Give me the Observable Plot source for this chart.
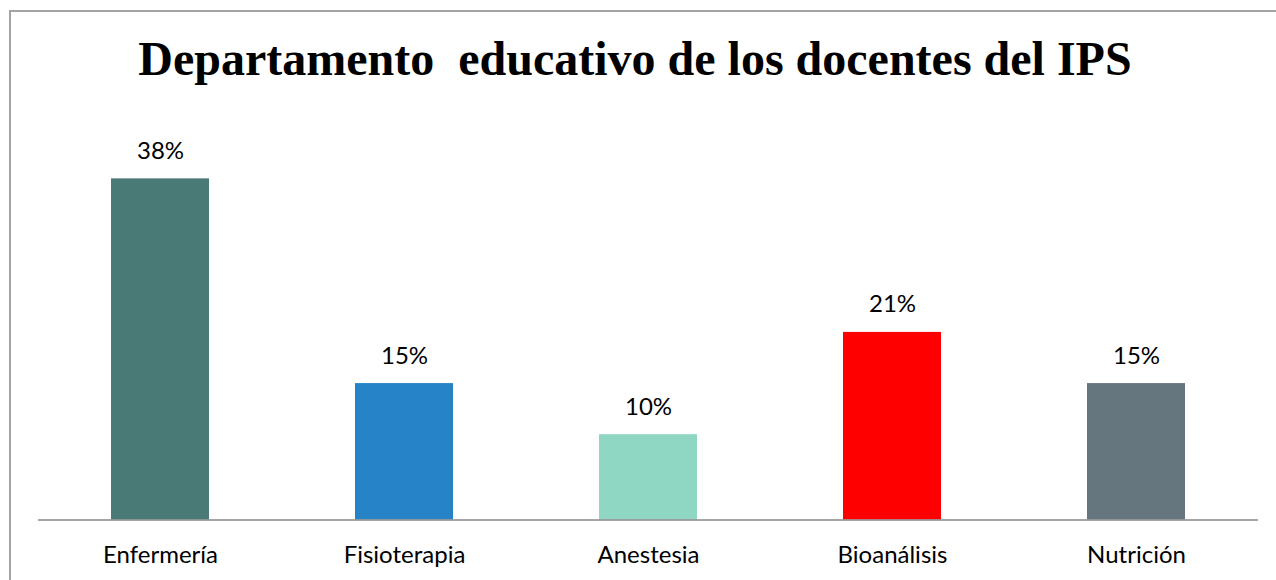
<!DOCTYPE html>
<html>
<head>
<meta charset="utf-8">
<script src="https://cdn.jsdelivr.net/npm/d3@7"></script>
<script src="https://cdn.jsdelivr.net/npm/@observablehq/plot@0.6"></script>
<style>
  html, body { margin: 0; padding: 0; background: #fff; overflow: hidden; width: 1276px; height: 580px; }
  #frame { position: absolute; left: 9px; top: 10px; width: 1400px; height: 700px; border: 2px solid #a3a3a3; box-sizing: border-box; pointer-events: none; }
  #title { box-sizing: border-box; height: 110px; padding-top: 35px; line-height: 48px; font-family: "Liberation Serif", "Times New Roman", serif; font-weight: bold; font-size: 48px; text-align: center; white-space: pre; color: #000; padding-right: 6px; }
  #chart { position: relative; }
</style>
</head>
<body>
<div id="title">Departamento  educativo de los docentes del IPS</div>
<div id="chart"></div>
<div id="frame"></div>
<script>
const categories = ["Enfermería", "Fisioterapia", "Anestesia", "Bioanálisis", "Nutrición"];
const percentages = [38.46, 15.38, 9.62, 21.15, 15.38];
const colors = ["#4A7A75", "#2683C6", "#8FD7C2", "#FF0000", "#65767F"];

const data = categories.map((c, i) => ({category: c, value: percentages[i], color: colors[i]}));

const W = 1276, H = 470;
const marginBottom = 60.5;
const pxPerUnit = 8.87;
const yMax = 40;
const marginTop = H - marginBottom - yMax * pxPerUnit;

const chart = Plot.plot({
  width: W,
  height: H,
  marginLeft: 38,
  marginRight: 18,
  marginTop,
  marginBottom,
  style: { fontFamily: "Lato, 'Open Sans', sans-serif", fontSize: "24px", background: "#fff", color: "#000" },
  x: { domain: categories, paddingInner: 0.6, paddingOuter: 0.3, axis: null },
  y: { domain: [0, yMax], axis: null },
  marks: [
    Plot.barY(data, { x: "category", y: "value", fill: "color" }),
    Plot.ruleY([0], { stroke: "#898989", strokeWidth: 1.7 }),
    Plot.text(data, { x: "category", y: "value", text: d => Math.round(d.value) + "%", lineAnchor: "bottom", dy: -20, fill: "#000", fontSize: 24 }),
    Plot.text(categories, { x: d => d, frameAnchor: "bottom", lineAnchor: "bottom", dy: 42.5, text: d => d, fill: "#000", fontSize: 24 })
  ]
});
document.getElementById("chart").appendChild(chart);
</script>
</body>
</html>
